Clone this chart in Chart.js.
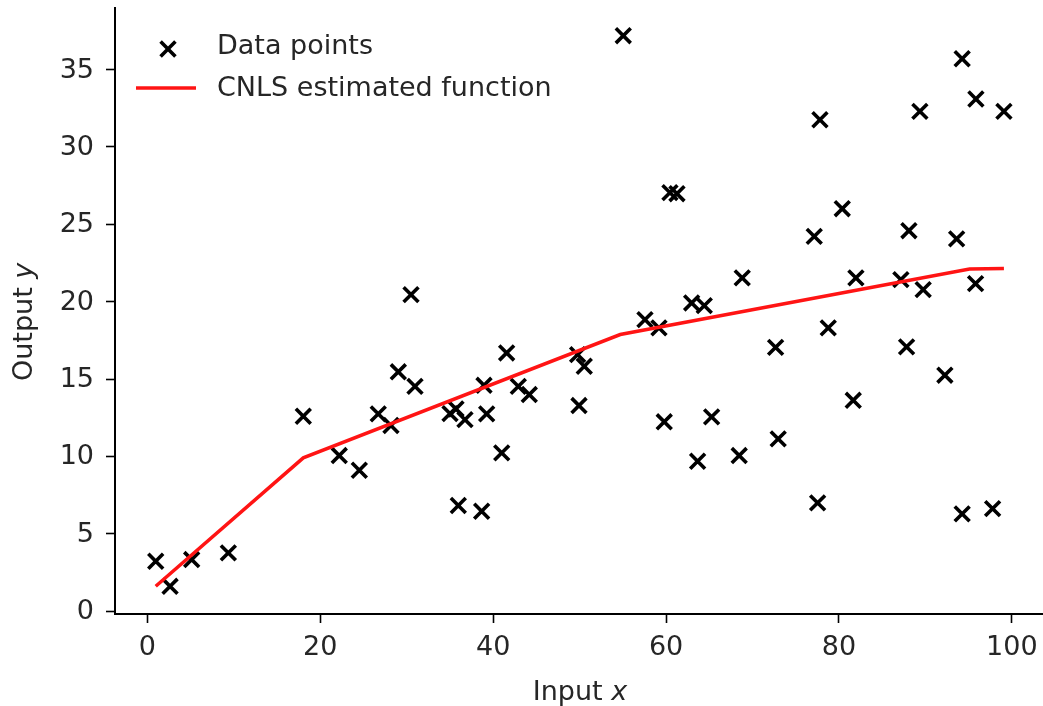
<!DOCTYPE html>
<html>
<head>
<meta charset="utf-8">
<script src="https://cdn.jsdelivr.net/npm/chart.js@4.4.1/dist/chart.umd.min.js"></script>
<style>
  html, body { margin: 0; padding: 0; background: #fff; overflow: hidden; }
  #wrap { width: 1043px; height: 706px; }
</style>
</head>
<body>
<div id="wrap"><canvas id="chart" width="1043" height="706"></canvas></div>
<script>
// data points
var xData = [0.97, 2.63, 5.13, 9.37, 18.04, 22.20, 24.52, 26.71, 28.18, 29.03,
             30.50, 30.96, 35.01, 35.70, 36.74, 35.97, 38.94, 39.25, 38.67, 40.99,
             41.56, 42.91, 44.18, 49.77, 50.54, 49.93, 55.05, 57.56, 59.18, 59.79,
             60.45, 61.26, 62.96, 64.42, 63.65, 65.27, 68.46, 68.81, 72.67, 72.97,
             77.14, 77.80, 77.53, 78.76, 80.38, 81.65, 81.96, 87.16, 87.82, 88.09,
             89.36, 89.74, 92.25, 93.61, 94.25, 94.25, 95.84, 95.80, 97.77, 99.08]
var yData = [3.23, 1.61, 3.34, 3.77, 12.60, 10.06, 9.11, 12.75, 12.00, 15.47,
             20.46, 14.53, 12.77, 13.07, 12.38, 6.83, 14.60, 12.75, 6.46, 10.23,
             16.69, 14.53, 14.00, 16.58, 15.83, 13.29, 37.19, 18.84, 18.31, 12.24,
             27.05, 26.98, 19.92, 19.75, 9.69, 12.56, 10.06, 21.54, 17.05, 11.14,
             24.22, 31.76, 7.00, 18.31, 26.01, 13.63, 21.54, 21.43, 17.08, 24.59,
             32.30, 20.78, 15.25, 24.06, 35.70, 6.29, 33.10, 21.17, 6.63, 32.30]

// CNLS estimated function (piecewise linear)
var lineX = [0.97, 18.04, 54.7, 95.1, 99.08]
var lineY = [1.61, 9.91, 17.88, 22.12, 22.15]

var xTicks = [0, 20, 40, 60, 80, 100]
var yTicks = [0, 5, 10, 15, 20, 25, 30, 35]

var seriesNames = ['Data points', 'CNLS estimated function']

var FONT = 'DejaVu Sans'
var FS = 27
var TXT = '#262626'

var pts = []
for (var i = 0; i < xData.length; i++) pts.push({x: xData[i], y: yData[i]})
var linePts = []
for (var j = 0; j < lineX.length; j++) linePts.push({x: lineX[j], y: lineY[j]})

//tick labels, legend and axis titles drawn by hand (italic x / y like mathtext)
var extras = {
    id: 'extras',
    afterDraw: function(chart) {
        var ctx = chart.ctx
        var sx = chart.scales.x
        var sy = chart.scales.y
        ctx.save()
        ctx.fillStyle = TXT
        ctx.font = FS + 'px "' + FONT + '"'

        // tick labels
        ctx.textBaseline = 'middle'
        ctx.textAlign = 'center'
        xTicks.forEach(function(v) {
            ctx.fillText(String(v), sx.getPixelForValue(v), 648)
        })
        ctx.textAlign = 'right'
        yTicks.forEach(function(v) {
            ctx.fillText(String(v), 94, sy.getPixelForValue(v) + 1)
        })

        // legend
        ctx.textAlign = 'left'
        var scatterDs = chart.data.datasets[0]
        var lineDs = chart.data.datasets[1]
        ctx.strokeStyle = scatterDs.borderColor
        ctx.lineWidth = scatterDs.borderWidth
        Chart.helpers.drawPoint(ctx, {pointStyle: 'crossRot', radius: scatterDs.pointRadius, rotation: 0, borderWidth: scatterDs.borderWidth}, 168, 49)
        ctx.fillText(seriesNames[0], 217, 47)

        ctx.strokeStyle = lineDs.borderColor
        ctx.lineWidth = lineDs.borderWidth
        ctx.beginPath()
        ctx.moveTo(136, 88)
        ctx.lineTo(196, 88)
        ctx.stroke()
        ctx.fillText(seriesNames[1], 217, 89)

        // x axis title
        ctx.textBaseline = 'alphabetic'
        var s1 = 'Input '
        var w1 = ctx.measureText(s1).width
        ctx.font = 'italic ' + FS + 'px "' + FONT + '"'
        var w2 = ctx.measureText('x').width
        var cx = (chart.chartArea.left + 1045) / 2
        var x0 = cx - (w1 + w2) / 2
        ctx.font = FS + 'px "' + FONT + '"'
        ctx.fillText(s1, x0, 700)
        ctx.font = 'italic ' + FS + 'px "' + FONT + '"'
        ctx.fillText('x', x0 + w1, 700)

        // y axis title
        ctx.translate(32, 381)
        ctx.rotate(-Math.PI / 2)
        ctx.font = FS + 'px "' + FONT + '"'
        var s3 = 'Output '
        var w3 = ctx.measureText(s3).width
        ctx.fillText(s3, 0, 0)
        ctx.font = 'italic ' + FS + 'px "' + FONT + '"'
        ctx.fillText('y', w3, 0)
        ctx.restore()
    }
}

var axisStyle = {
    border: {display: true, color: '#000', width: 2},
    grid: {display: true, drawOnChartArea: false, drawTicks: true, tickLength: 9, tickWidth: 1.6, tickColor: '#000'},
    ticks: {display: false}
}

var chart = new Chart(document.getElementById('chart'), {
    type: 'scatter',
    data: {
        datasets: [{
            label: seriesNames[0],
            data: pts,
            pointStyle: 'crossRot',
            pointRadius: 10.5,
            pointHoverRadius: 10.5,
            borderColor: '#000',
            backgroundColor: '#000',
            borderWidth: 3.6,
            showLine: false,
            clip: false,
            order: 1
        }, {
            label: seriesNames[1],
            data: linePts,
            showLine: true,
            borderColor: 'rgb(255,20,20)',
            backgroundColor: 'rgb(255,20,20)',
            borderWidth: 3.5,
            pointRadius: 0,
            tension: 0,
            order: 0
        }]
    },
    options: {
        responsive: false,
        animation: false,
        devicePixelRatio: 1,
        layout: {autoPadding: false, padding: {top: 8, right: 0, left: 0, bottom: 0}},
        plugins: {
            legend: {display: false},
            tooltip: {enabled: false}
        },
        scales: {
            x: Object.assign({
                type: 'linear',
                min: -3.74,
                max: 103.6,
                afterBuildTicks: function(scale) {
                    scale.ticks = xTicks.map(function(v) { return {value: v} })
                },
                afterFit: function(scale) { scale.height = 92 }
            }, axisStyle),
            y: Object.assign({
                type: 'linear',
                min: -0.18,
                max: 38.98,
                afterBuildTicks: function(scale) {
                    scale.ticks = yTicks.map(function(v) { return {value: v} })
                },
                afterFit: function(scale) { scale.width = 115 }
            }, axisStyle)
        }
    },
    plugins: [extras]
})
</script>
</body>
</html>
